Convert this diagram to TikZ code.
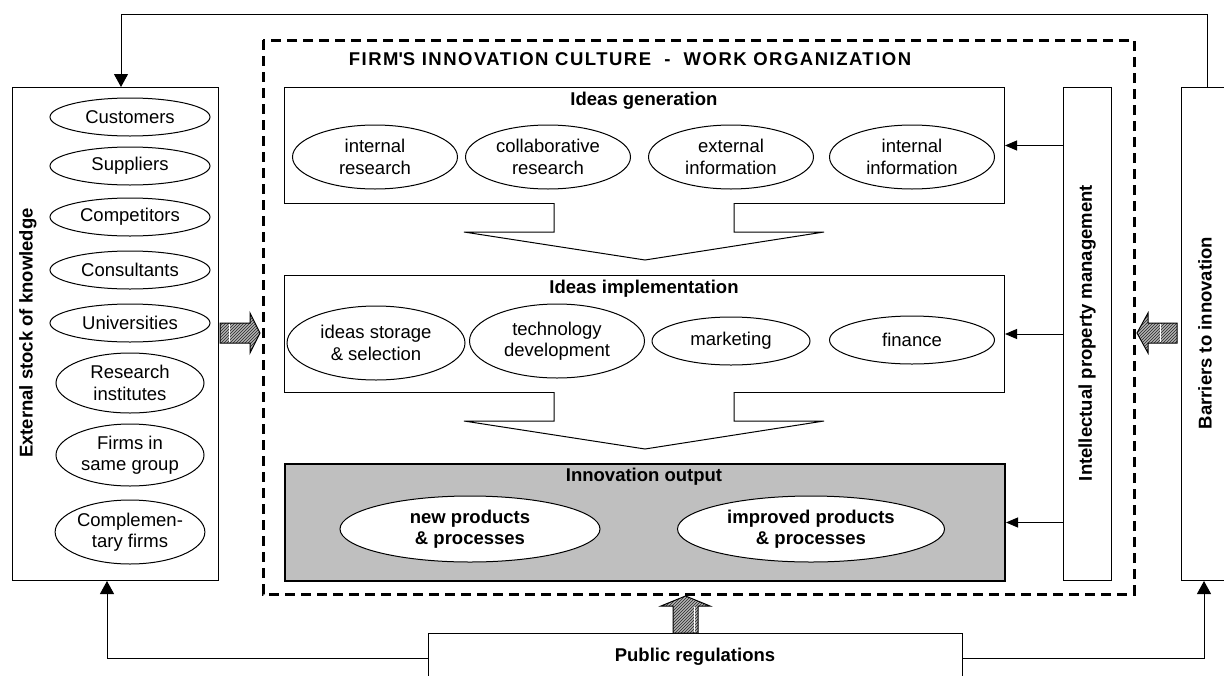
\documentclass[tikz,border=0pt]{standalone}
\usepackage{fontspec}
\setmainfont{Liberation Sans}
\usetikzlibrary{shapes.geometric,arrows.meta,patterns}
\begin{document}
\begin{tikzpicture}[x=1pt,y=-1pt,
  txt/.style={font=\fontsize{18.5}{21.5}\selectfont},
  btxt/.style={font=\fontsize{18.5}{21.5}\selectfont\bfseries},
  oval/.style={draw, ellipse, inner sep=0pt, align=center, fill=white, txt, line width=1pt},
  boval/.style={oval, font=\fontsize{18.5}{21.5}\selectfont\bfseries},
  frame/.style={draw, line width=1pt, rectangle, inner sep=0pt, anchor=north west},
  conn/.style={draw, line width=1pt, -{Triangle[length=13pt,width=14pt]}},
  sconn/.style={draw, line width=1pt, -{Triangle[length=12pt,width=10pt]}},
  hatch/.style={draw=black, line width=1pt, preaction={fill=gray!60}, pattern=north east lines, pattern color=black!85},
]
\useasboundingbox (0,0) rectangle (1224,675);
\clip (0,0) rectangle (1224,675);

% outer dashed box
\draw[line width=3pt, dash pattern=on 10pt off 6pt] (263,40) rectangle (1134,594);
\node[btxt] (title) at (630,59) {\addfontfeatures{LetterSpace=8}FIRM\textquotesingle S INNOVATION CULTURE~~-~~WORK ORGANIZATION};

% left box
\node[frame, minimum width=206pt, minimum height=493pt] (left) at (12,87) {};
\node[btxt, rotate=90] (leftlbl) at (28,333) {External stock of knowledge};
\node[oval, minimum width=160pt, minimum height=38pt] (cust) at (130,117) {Customers};
\node[oval, minimum width=160pt, minimum height=38pt] (supp) at (130,166) {Suppliers};
\node[oval, minimum width=160pt, minimum height=38pt] (comp) at (130,217) {Competitors};
\node[oval, minimum width=160pt, minimum height=38pt] (cons) at (130,270) {Consultants};
\node[oval, minimum width=160pt, minimum height=38pt] (univ) at (130,323) {Universities};
\node[oval, minimum width=148pt, minimum height=60pt] (resi) at (130,383) {Research\\institutes};
\node[oval, minimum width=148pt, minimum height=62pt] (firm) at (130,455) {Firms in\\same group};
\node[oval, minimum width=148pt, minimum height=64pt] (cmpl) at (130,532) {Complemen-\\tary firms};

% ideas generation
\node[frame, minimum width=720pt, minimum height=116pt] (gen) at (284,87) {};
\node[btxt] (genlbl) at (644,101) {Ideas generation};
\node[oval, minimum width=165pt, minimum height=64pt] (g1) at (375,157) {internal\\research};
\node[oval, minimum width=165pt, minimum height=64pt] (g2) at (548,157) {collaborative\\research};
\node[oval, minimum width=165pt, minimum height=64pt] (g3) at (731,157) {external\\information};
\node[oval, minimum width=165pt, minimum height=64pt] (g4) at (912,157) {internal\\information};

% funnel 1
\draw[line width=1pt, fill=white] (554,203) -- (554,232) -- (464,232) -- (645,260) -- (824,232) -- (734,232) -- (734,203);

% ideas implementation
\node[frame, minimum width=720pt, minimum height=117pt] (impl) at (284,275) {};
\node[btxt] (impllbl) at (644,289) {Ideas implementation};
\node[oval, minimum width=178pt, minimum height=74pt] (i1) at (376,343) {ideas storage\\\& selection};
\node[oval, minimum width=175pt, minimum height=74pt] (i2) at (557,341) {technology\\development};
\node[oval, minimum width=158pt, minimum height=48pt] (i3) at (731,341) {marketing};
\node[oval, minimum width=165pt, minimum height=48pt] (i4) at (912,340) {finance};

% funnel 2
\draw[line width=1pt, fill=white] (554,392) -- (554,421) -- (464,421) -- (645,449) -- (824,421) -- (734,421) -- (734,392);

% innovation output
\node[frame, line width=2pt, fill=gray!50, minimum width=720pt, minimum height=117pt] (out) at (284,463) {};
\node[btxt] (outlbl) at (644,477) {Innovation output};
\node[boval, minimum width=260pt, minimum height=66pt] (o1) at (470,529) {new products\\\& processes};
\node[boval, minimum width=267pt, minimum height=66pt] (o2) at (811,529) {improved products\\\& processes};

% intellectual property
\node[frame, minimum width=48pt, minimum height=493pt] (ip) at (1063,87) {};
\node[btxt, rotate=90] (iplbl) at (1087,333) {Intellectual property management};
\draw[sconn] (ip.west |- gen.east) -- (gen.east);
\draw[sconn] (ip.west |- impl.east) -- (impl.east);
\draw[sconn] (ip.west |- out.east) -- (out.east);

% barriers
\node[frame, minimum width=60pt, minimum height=493pt] (barr) at (1181,87) {};
\node[btxt, rotate=90] (barrlbl) at (1205,333) {Barriers to innovation};

% public regulations
\node[frame, minimum width=534pt, minimum height=50pt] (pub) at (428,633) {};
\node[btxt] (publbl) at (695,657) {Public regulations};

% connectors
\coordinate (topR) at (1207,14);
\draw[conn] ([xshift=26pt]barr.north west) -- (topR) -| ([xshift=109pt]left.north west);
\draw[conn] (pub.west) -| ([xshift=95pt]left.south west);
\draw[conn] (pub.east) -| ([xshift=23pt]barr.south west);

% block arrows
\draw[hatch] (220,323) -- (250,323) -- (250,313) -- (260,333) -- (250,353) -- (250,343) -- (220,343) -- cycle;
\draw[white, line width=1pt] (229,324) -- (229,342);
\draw[hatch] (1177,323) -- (1148,323) -- (1148,313) -- (1137,333) -- (1148,353) -- (1148,343) -- (1177,343) -- cycle;
\draw[white, line width=1pt] (1160,324) -- (1160,342);
\draw[hatch] (673,633) -- (673,606) -- (661,606) -- (685.5,596) -- (710,606) -- (698,606) -- (698,633) -- cycle;
\draw[white, line width=1pt] (694,607) -- (694,632);
\end{tikzpicture}
\end{document}
